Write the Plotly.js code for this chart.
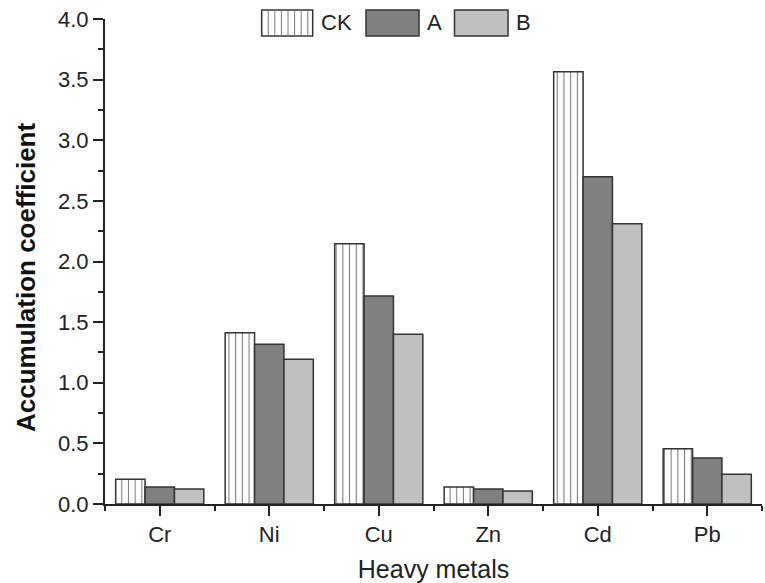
<!DOCTYPE html>
<html>
<head>
<meta charset="utf-8">
<script src="https://cdn.plot.ly/plotly-3.0.1.min.js"></script>
<style>html,body{margin:0;padding:0;background:#fff;}#chart{width:765px;height:583px;}</style>
</head>
<body>
<div id="chart"></div>
<script>
// ---- data ----
const categories = ["Cr", "Ni", "Cu", "Zn", "Cd", "Pb"];
const seriesNames = ["CK", "A", "B"];
const ckValues = [0.204, 1.413, 2.147, 0.140, 3.565, 0.456];
const aValues  = [0.140, 1.317, 1.715, 0.124, 2.700, 0.379];
const bValues  = [0.124, 1.193, 1.400, 0.107, 2.312, 0.245];
const yTickVals = [0, 0.5, 1, 1.5, 2, 2.5, 3, 3.5, 4];

// ---- layout geometry ----
const W = 765, H = 583;
const M = {l: 105, r: 3, t: 19, b: 79};
const PW = W - M.l - M.r, PH = H - M.t - M.b;
const px = x => (x - M.l) / PW;
const py = y => (H - M.b - y) / PH;

const FONT = "Liberation Sans, Arial, Helvetica, sans-serif";
const INK = "#222";
const EDGE = "#333";
const fills = ["#ffffff", "#808080", "#c0c0c0"];

const xIdx = categories.map((_, i) => i);
const values = [ckValues, aValues, bValues];

const traces = values.map((vals, k) => {
  const marker = {color: fills[k], line: {color: EDGE, width: 1.5}};
  if (k === 0) {
    marker.pattern = {shape: "|", fgcolor: "#7a7a7a", bgcolor: "#ffffff", size: 6.7, solidity: 0.16, fillmode: "replace"};
  }
  return {
    type: "bar", name: seriesNames[k], x: xIdx, y: vals,
    marker: marker, showlegend: false, hoverinfo: "x+y+name"
  };
});

// ---- custom legend (boxes + labels) ----
const shapes = [];
const annotations = [];
const legBoxes = [[261.7, 312.7], [366, 419], [454.5, 508]];
const legTop = 10, legBot = 36;
legBoxes.forEach((b, k) => {
  shapes.push({type: "rect", xref: "paper", yref: "paper",
    x0: px(b[0]), x1: px(b[1]), y0: py(legBot), y1: py(legTop),
    fillcolor: fills[k], line: {color: EDGE, width: 1.5}, layer: "above"});
  if (k === 0) {
    for (let xx = b[0] + 6.5; xx < b[1] - 2; xx += 6.6) {
      shapes.push({type: "line", xref: "paper", yref: "paper",
        x0: px(xx), x1: px(xx), y0: py(legBot), y1: py(legTop),
        line: {color: "#7a7a7a", width: 1}, layer: "above"});
    }
  }
  annotations.push({xref: "paper", yref: "paper", x: px(b[1] + 6), y: py((legTop + legBot) / 2),
    xanchor: "left", yanchor: "middle", showarrow: false, text: seriesNames[k],
    font: {family: FONT, size: 22, color: INK}});
});

// y-axis title placed as in the reference
annotations.push({xref: "paper", yref: "paper", x: px(26), y: py(278), xanchor: "center", yanchor: "middle",
  showarrow: false, textangle: -90, text: "<b>Accumulation coefficient</b>",
  font: {family: FONT, size: 26, color: "#111"}});

const layout = {
  width: W, height: H,
  margin: M,
  paper_bgcolor: "#fff", plot_bgcolor: "#fff",
  font: {family: FONT, color: INK},
  barmode: "group", bargap: 0.195, bargroupgap: 0,
  showlegend: false,
  xaxis: {
    range: [-0.5, categories.length - 0.5],
    tickmode: "array", tickvals: xIdx, ticktext: categories,
    ticks: "outside", ticklen: 10, tickwidth: 2, tickcolor: INK,
    showline: true, linecolor: INK, linewidth: 2,
    showgrid: false, zeroline: false,
    tickfont: {family: FONT, size: 22, color: INK},
    minor: {tickmode: "linear", tick0: 0.5, dtick: 1, ticks: "outside", ticklen: 5, tickwidth: 2, tickcolor: INK, showgrid: false},
    title: {text: "Heavy metals", font: {family: FONT, size: 25, color: INK}, standoff: 14},
    fixedrange: true
  },
  yaxis: {
    range: [0, 4],
    tickmode: "array", tickvals: yTickVals, tickformat: ".1f",
    ticks: "outside", ticklen: 10, tickwidth: 2, tickcolor: INK,
    showline: true, linecolor: INK, linewidth: 2,
    showgrid: false, zeroline: false,
    tickfont: {family: FONT, size: 22, color: INK},
    minor: {tickmode: "linear", tick0: 0.25, dtick: 0.5, ticks: "outside", ticklen: 5, tickwidth: 2, tickcolor: INK, showgrid: false},
    fixedrange: true
  },
  shapes: shapes,
  annotations: annotations
};

Plotly.newPlot("chart", traces, layout, {displayModeBar: false, staticPlot: true});
</script>
</body>
</html>
